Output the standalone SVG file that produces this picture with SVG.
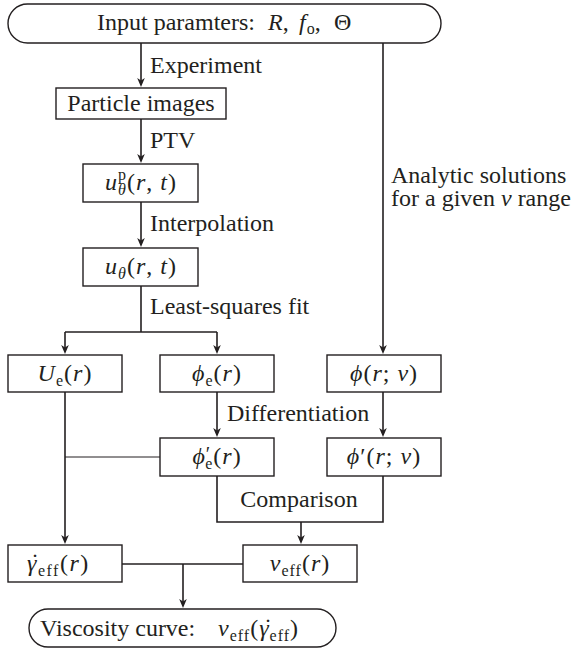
<svg xmlns="http://www.w3.org/2000/svg" width="572" height="650" viewBox="0 0 572 650" font-family="'Liberation Serif', 'DejaVu Serif', 'Times New Roman', serif">
<defs>
<style>
.box{fill:#fff;stroke:#231f20;stroke-width:1.4}
.ln{fill:none;stroke:#231f20;stroke-width:1.6}
.thin{fill:none;stroke:#231f20;stroke-width:1}
text{font-family:'Liberation Serif','DejaVu Serif','Times New Roman',serif;font-size:24px;fill:#231f20}
.mt{text-anchor:middle;font-size:24px;letter-spacing:1px}
.m{font-style:italic}
.s{font-size:16px;font-style:normal}
.si{font-size:16px;font-style:italic}
.dot{font-size:24px;text-anchor:middle}
</style>
<marker id="ah" viewBox="-7 -5 11 10" refX="0" refY="0" markerWidth="11" markerHeight="10" markerUnits="userSpaceOnUse" orient="auto">
<path d="M3,0 L-6,-3.8 L-3.6,0 L-6,3.8 Z" fill="#231f20"/>
</marker>
</defs>
<rect width="572" height="650" fill="#fff"/>

<g id="connectors">
<path class="ln" d="M141,43 V84" marker-end="url(#ah)"/>
<path class="ln" d="M141,119 V160" marker-end="url(#ah)"/>
<path class="ln" d="M141,202 V244" marker-end="url(#ah)"/>
<path class="ln" d="M141,286 V332"/>
<path class="ln" d="M65,332 H217"/>
<path class="ln" d="M65,332 V351" marker-end="url(#ah)"/>
<path class="ln" d="M217,332 V351" marker-end="url(#ah)"/>
<path class="ln" d="M383,43 V351" marker-end="url(#ah)"/>
<path class="ln" d="M217,392 V434" marker-end="url(#ah)"/>
<path class="ln" d="M383,392 V434" marker-end="url(#ah)"/>
<path class="ln" d="M65,392 V541" marker-end="url(#ah)"/>
<path class="thin" d="M65,457 H160"/>
<path class="ln" d="M217,476 V522 H383 V476"/>
<path class="ln" d="M301,522 V541" marker-end="url(#ah)"/>
<path class="ln" d="M122,564 H243"/>
<path class="ln" d="M183,564 V605" marker-end="url(#ah)"/>
<text x="150" y="73">Experiment</text>
<text x="150" y="148">PTV</text>
<text x="150" y="231">Interpolation</text>
<text x="150" y="314">Least-squares fit</text>
<text x="391" y="183">Analytic solutions</text>
<text x="391" y="206">for a given <tspan class="m">ν</tspan> range</text>
<text x="227" y="421">Differentiation</text>
<text x="299" y="507" text-anchor="middle">Comparison</text>
</g>

<g id="input">
<rect class="box" x="8" y="4" width="433" height="39" rx="19.5"/>
<text x="97" y="30">Input paramters:</text>
<text x="268" y="30"><tspan class="m">R</tspan>,</text>
<text x="299" y="30"><tspan class="m">f</tspan><tspan class="s" dx="1" dy="4">o</tspan><tspan dy="-4">,</tspan></text>
<text x="334" y="30">Θ</text>
</g>

<g id="particle">
<rect class="box" x="56" y="88" width="170" height="31"/>
<text x="141" y="111" text-anchor="middle">Particle images</text>
</g>

<g id="up">
<rect class="box" x="83" y="164" width="115" height="38"/>
<text class="mt" x="141" y="190"><tspan class="m">u</tspan><tspan class="s" dy="-10">p</tspan><tspan class="si" dx="-9" dy="15">θ</tspan><tspan dy="-5">(</tspan><tspan class="m">r</tspan>, <tspan class="m">t</tspan>)</text>
</g>

<g id="utheta">
<rect class="box" x="83" y="248" width="115" height="38"/>
<text class="mt" x="141" y="274"><tspan class="m">u</tspan><tspan class="si" dy="5">θ</tspan><tspan dy="-5">(</tspan><tspan class="m">r</tspan>, <tspan class="m">t</tspan>)</text>
</g>

<g id="Ue">
<rect class="box" x="8" y="355" width="114" height="37"/>
<text class="mt" x="65" y="381"><tspan class="m">U</tspan><tspan class="s" dy="5">e</tspan><tspan dy="-5">(</tspan><tspan class="m">r</tspan>)</text>
</g>

<g id="phie">
<rect class="box" x="160" y="355" width="114" height="37"/>
<text class="mt" x="217" y="381"><tspan class="m">ϕ</tspan><tspan class="s" dy="5">e</tspan><tspan dy="-5">(</tspan><tspan class="m">r</tspan>)</text>
</g>

<g id="phi">
<rect class="box" x="327" y="355" width="114" height="37"/>
<text class="mt" x="384" y="381"><tspan class="m">ϕ</tspan>(<tspan class="m">r</tspan>; <tspan class="m">ν</tspan>)</text>
</g>

<g id="phipe">
<rect class="box" x="160" y="438" width="114" height="38"/>
<text class="mt" x="217" y="464"><tspan class="m">ϕ</tspan><tspan font-size="20" dy="-3">′</tspan><tspan class="s" dx="-6" dy="8">e</tspan><tspan dy="-5">(</tspan><tspan class="m">r</tspan>)</text>
</g>

<g id="phip">
<rect class="box" x="327" y="438" width="114" height="38"/>
<text class="mt" x="384" y="464"><tspan class="m">ϕ</tspan>′(<tspan class="m">r</tspan>; <tspan class="m">ν</tspan>)</text>
</g>

<g id="gammaeff">
<rect class="box" x="8" y="545" width="114" height="37"/>
<text x="27" y="571" letter-spacing="1.5"><tspan class="m">γ</tspan><tspan class="s" dy="5">eff</tspan><tspan dy="-5">(</tspan><tspan class="m">r</tspan>)</text>
<text class="dot" x="35" y="570">˙</text>
</g>

<g id="nueff">
<rect class="box" x="243" y="545" width="114" height="37"/>
<text class="mt" x="300" y="571"><tspan class="m">ν</tspan><tspan class="s" dy="5">eff</tspan><tspan dy="-5">(</tspan><tspan class="m">r</tspan>)</text>
</g>

<g id="viscosity">
<rect class="box" x="29" y="609" width="307" height="38" rx="19"/>
<text x="40" y="636">Viscosity curve:</text>
<text x="218" y="636" letter-spacing="1"><tspan class="m">ν</tspan><tspan class="s" dy="5">eff</tspan><tspan dy="-5">(</tspan><tspan class="m">γ</tspan><tspan class="s" dy="5">eff</tspan><tspan dy="-5">)</tspan></text>
<text class="dot" x="268" y="635">˙</text>
</g>
</svg>
